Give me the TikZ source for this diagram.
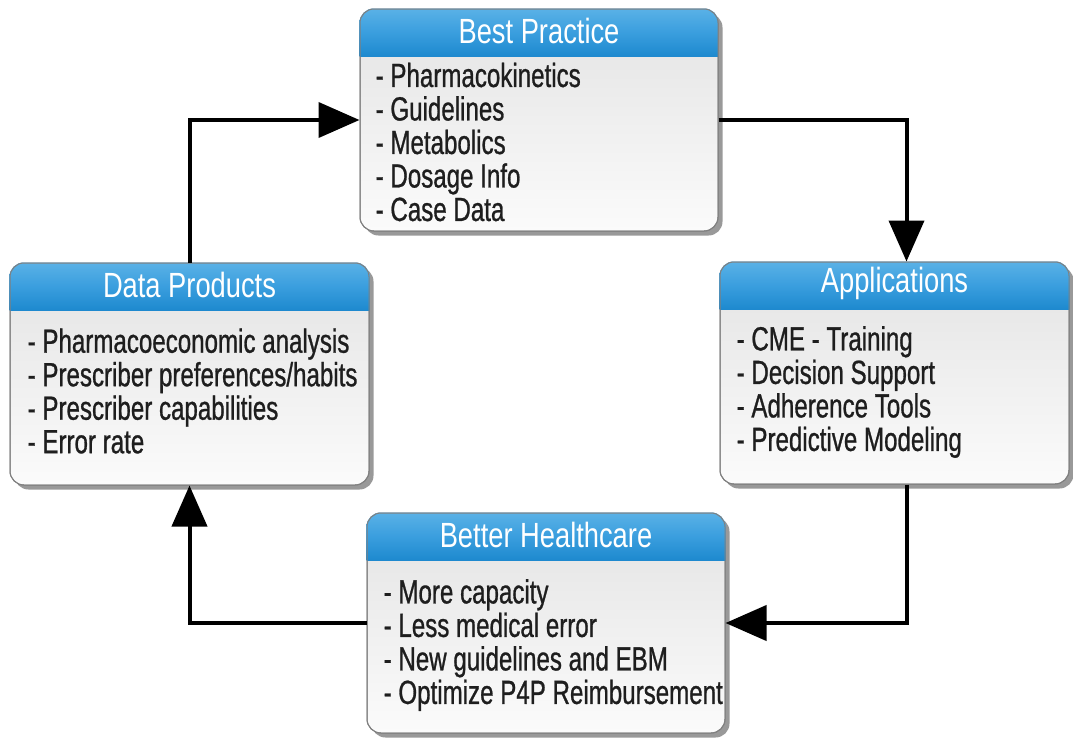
\documentclass[tikz,border=0pt]{standalone}
\usepackage{fontspec}
\setmainfont{Liberation Sans}[FakeStretch=0.72,FakeBold=0.8]
\newfontfamily\headfont{Liberation Sans}[FakeStretch=0.78]
\usetikzlibrary{arrows.meta,shadows}
\definecolor{hdtop}{HTML}{7AC5EF}
\definecolor{hdmid}{HTML}{3A9EDE}
\definecolor{hdbot}{HTML}{0074BF}
\definecolor{bdtop}{HTML}{E3E3E3}
\definecolor{bdbot}{HTML}{FBFBFB}
\definecolor{ink}{HTML}{1E1E1E}
\pgfdeclareverticalshading{hdshade}{100bp}{color(0bp)=(hdbot); color(50bp)=(hdmid); color(100bp)=(hdtop)}
\begin{document}
\begin{tikzpicture}[x=1pt,y=-1pt,
  card/.style={draw=black!50,line width=1pt,rounded corners=14pt,top color=bdtop,bottom color=bdbot,
    drop shadow={shadow xshift=4.5pt,shadow yshift=-4.5pt,fill=black!40,opacity=1}},
  head/.style={text=white,font=\headfont\fontsize{35}{35}\selectfont,inner sep=0},
  list/.style={text=ink,align=left,anchor=west,font=\fontsize{33.5}{33.5}\selectfont,inner sep=0},
  flow/.style={line width=4pt,-{Triangle[length=41pt,width=35pt]}}]
\useasboundingbox (0,0) rectangle (1073,737);

\node[card,minimum width=358pt,minimum height=222pt] at (539,120)(bp){};
\node[card,minimum width=349pt,minimum height=222pt] at (894.5,373)(app){};
\node[card,minimum width=359pt,minimum height=222pt] at (189.5,374)(dp){};
\node[card,minimum width=358pt,minimum height=220pt] at (546,623)(bh){};

% blue title bars
\foreach \n in {bp,app,dp,bh}{
  \begin{scope}
    \clip[rounded corners=14pt] (\n.north west) rectangle (\n.south east);
    \shade[shading=hdshade] (\n.north west) rectangle ([yshift=-48pt]\n.north east);
  \end{scope}
  \draw[black!50,line width=1pt,rounded corners=14pt] ([xshift=.5pt,yshift=-.5pt]\n.north west) rectangle ([xshift=-.5pt,yshift=.5pt]\n.south east);
}

\node[head] at ([yshift=-22pt]bp.north)(bphead){Best Practice};
\node[head] at ([yshift=-22pt]app.north)(apphead){Applications};
\node[head] at ([yshift=-22pt]dp.north)(dphead){Data Products};
\node[head] at ([yshift=-22pt]bh.north)(bhhead){Better Healthcare};

\node[list] at ([xshift=16pt,yshift=-22pt]bp.west)(bplist){- Pharmacokinetics\\- Guidelines\\- Metabolics\\- Dosage Info\\- Case Data};
\node[list] at ([xshift=17pt,yshift=-19pt]app.west)(applist){- CME - Training\\- Decision Support\\- Adherence Tools\\- Predictive Modeling};
\node[list] at ([xshift=18pt,yshift=-17pt]dp.west)(dplist){- Pharmacoeconomic analysis\\- Prescriber preferences/habits\\- Prescriber capabilities\\- Error rate};
\node[list] at ([xshift=17pt,yshift=-22pt]bh.west)(bhlist){- More capacity\\- Less medical error\\- New guidelines and EBM\\- Optimize P4P Reimbursement};

\draw[flow] (bp.east) -| ([xshift=12pt]app.north);
\draw[flow] ([xshift=12pt]app.south) |- (bh.east);
\draw[flow] (bh.west) -| (dp.south);
\draw[flow] (dp.north) |- (bp.west);
\end{tikzpicture}
\end{document}
